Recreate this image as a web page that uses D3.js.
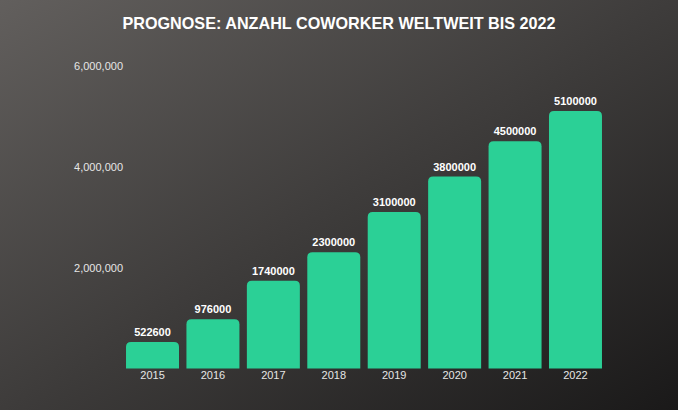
<!DOCTYPE html>
<html><head><meta charset="utf-8">
<script src="https://cdn.jsdelivr.net/npm/d3@7"></script>
<style>html,body{margin:0;padding:0;background:#2a2828;}svg{display:block;}</style>
</head><body>
<svg id="c" width="678" height="410"></svg>
<script>
const title = "PROGNOSE: ANZAHL COWORKER WELTWEIT BIS 2022";
const years = ["2015","2016","2017","2018","2019","2020","2021","2022"];
const coworkers = [522600, 976000, 1740000, 2300000, 3100000, 3800000, 4500000, 5100000];
const yTicks = [2000000, 4000000, 6000000];

const W = 678, H = 410;
const svg = d3.select("#c");
const defs = svg.append("defs");
const g = defs.append("linearGradient").attr("id","bg")
  .attr("x1","0").attr("y1","0").attr("x2","1").attr("y2","1");
g.append("stop").attr("offset","0%").attr("stop-color","#625f5d");
g.append("stop").attr("offset","100%").attr("stop-color","#1a1919");
svg.append("rect").attr("width",W).attr("height",H).attr("fill","url(#bg)");

const x = d3.scaleBand().domain(years).range([122.3, 605.7]).paddingInner(0.123).paddingOuter(0.0615);
const y = d3.scaleLinear().domain([0, 6000000]).range([368.5, 65.5]);

svg.append("text").attr("x", 339).attr("y", 29)
  .attr("text-anchor","middle").attr("fill","#ffffff")
  .attr("font-family","'Liberation Sans', Arial, sans-serif")
  .attr("font-weight","bold").attr("font-size",16.2).text(title);

const yAxis = svg.append("g").attr("transform","translate(123,0)")
  .call(d3.axisLeft(y).tickValues(yTicks).tickSize(0).tickPadding(0).tickFormat(d3.format(",")));
yAxis.select(".domain").remove();
yAxis.selectAll("text").attr("fill","#e6e6e6")
  .attr("font-family","'Liberation Sans', Arial, sans-serif").attr("font-size",11);

const xAxis = svg.append("g").attr("transform","translate(0,369)")
  .call(d3.axisBottom(x).tickSize(0).tickPadding(2));
xAxis.select(".domain").remove();
xAxis.selectAll("text").attr("fill","#e6e6e6")
  .attr("font-family","'Liberation Sans', Arial, sans-serif").attr("font-size",11);

function barPath(x0, y0, w, h, r) {
  r = Math.min(r, h, w/2);
  return `M${x0},${y0+h}V${y0+r}Q${x0},${y0} ${x0+r},${y0}H${x0+w-r}Q${x0+w},${y0} ${x0+w},${y0+r}V${y0+h}Z`;
}

const data = years.map((yr,i)=>({yr, v: coworkers[i]}));
svg.append("g").selectAll("path").data(data).join("path")
  .attr("d", d => barPath(x(d.yr), y(d.v), x.bandwidth(), y(0)-y(d.v), 5))
  .attr("fill","#2bd096");

svg.append("g").selectAll("text").data(data).join("text")
  .attr("x", d => x(d.yr) + x.bandwidth()/2)
  .attr("y", d => y(d.v) - 6)
  .attr("text-anchor","middle").attr("fill","#ffffff")
  .attr("font-family","'Liberation Sans', Arial, sans-serif")
  .attr("font-weight","bold").attr("font-size",11)
  .text(d => d.v);
</script>
</body></html>
